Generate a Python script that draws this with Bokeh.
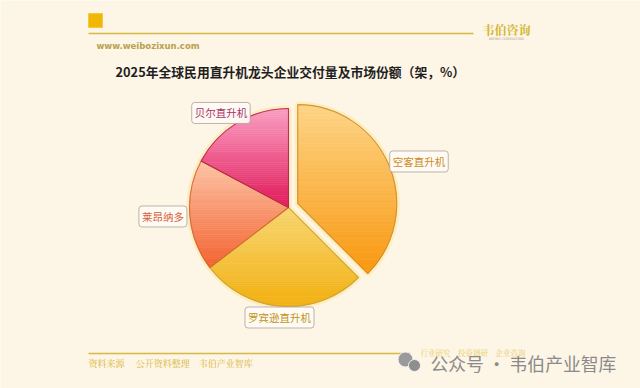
import numpy as np
from bokeh.plotting import figure
from bokeh.models import Range1d, Label
from bokeh.embed import file_html
from bokeh.resources import INLINE

# ---- data ----
categories = ["空客直升机", "罗宾逊直升机", "莱昂纳多", "贝尔直升机"]
share = [37.5, 27.1, 18.2, 17.2]
top_colors = ["#FDD486", "#F8D672", "#FDC4A6", "#FA9FC2"]
bottom_colors = ["#F99810", "#F2B010", "#F3622F", "#E2185A"]
edge_colors = ["#C98B2B", "#C9A032", "#D0603A", "#B0204F"]
label_colors = ["#CC8A1E", "#BE9420", "#D5603A", "#A8306A"]
explode = [10, 0, 0, 0]

title = "2025年全球民用直升机龙头企业交付量及市场份额（架，%）"
source_note = "资料来源\u3000\u00a0公开资料整理\u3000韦伯产业智库"
site = "www.weibozixun.com"
brand = "韦伯咨询"
watermark = "公众号 · 韦伯产业智库"
tagline = "行业研究\u3000投资调研\u3000企业咨询"

W, H = 640, 388
BG = "#FDF5E6"
FONT = "Noto Sans CJK SC"

p = figure(width=W, height=H, x_range=Range1d(0, W), y_range=Range1d(0, H),
           output_backend="svg", toolbar_location=None, min_border=0,
           x_axis_type=None, y_axis_type=None,
           background_fill_color=BG, border_fill_color=BG)
p.grid.visible = False
p.outline_line_color = None


def sy(y):
    return H - y


# ---- header ----
p.quad(left=88, right=102, top=sy(13), bottom=sy(27), fill_color="#F2B705", line_color="#F5C842")
p.segment(x0=88, y0=sy(33), x1=473, y1=sy(33), line_color="#D6BA45", line_width=1.6)
p.add_layout(Label(x=96, y=sy(45), text=site, text_font="DejaVu Sans", text_font_style="bold",
                   text_font_size="8.5px", text_color="#B8A24E", text_baseline="middle"))
p.add_layout(Label(x=506, y=sy(29), text=brand, text_font="Noto Serif CJK SC", text_font_style="bold",
                   text_font_size="12px", text_color="#D2B52E", text_align="center", text_baseline="middle"))
p.add_layout(Label(x=506, y=sy(38), text="WEIBO CONSULTING", text_font="DejaVu Sans",
                   text_font_size="3.5px", text_color="#B0A890", text_align="center", text_baseline="middle"))

# ---- title ----
p.add_layout(Label(x=115, y=sy(71), text=title, text_font=FONT, text_font_style="bold",
                   text_font_size="12.8px", text_color="#1E1E1E", text_baseline="middle"))

# ---- pie ----
CX, CY, R = 288, sy(207), 99
frac = np.array(share) / np.sum(share)
ends = np.pi / 2 - 2 * np.pi * np.cumsum(frac)
starts = ends + 2 * np.pi * frac
mids = (starts + ends) / 2
ex = np.array(explode, dtype=float)
cxs = CX + ex * np.cos(mids)
cys = CY + ex * np.sin(mids)

# glow
p.wedge(x=cxs, y=cys, radius=R, start_angle=ends, end_angle=starts, direction="anticlock",
        fill_color=None, line_color="#FFE79A", line_width=6, line_alpha=0.55)


def hex2rgb(h):
    h = h.lstrip("#")
    return np.array([int(h[i:i + 2], 16) for i in (0, 2, 4)], dtype=float)


def rgb2hex(c):
    return "#%02x%02x%02x" % tuple(int(round(v)) for v in c)


def clip_half(pts, keep, yb):
    out = []
    n = len(pts)
    for i in range(n):
        a = pts[i]
        b = pts[(i + 1) % n]
        ina, inb = keep(a[1]), keep(b[1])
        if ina:
            out.append(a)
        if ina != inb:
            t = (yb - a[1]) / (b[1] - a[1])
            out.append((a[0] + t * (b[0] - a[0]), yb))
    return out


xs_all, ys_all, cols_all = [], [], []
NB = 48
for i in range(len(categories)):
    th = np.linspace(ends[i], starts[i], 90)
    poly = [(cxs[i], cys[i])] + [(cxs[i] + R * np.cos(t), cys[i] + R * np.sin(t)) for t in th]
    ymin = min(q[1] for q in poly)
    ymax = max(q[1] for q in poly)
    c0, c1 = hex2rgb(top_colors[i]), hex2rgb(bottom_colors[i])
    edges = np.linspace(ymin, ymax, NB + 1)
    for k in range(NB):
        y0, y1 = edges[k], edges[k + 1]
        pts = clip_half(poly, lambda y: y >= y0, y0)
        if pts:
            pts = clip_half(pts, lambda y: y <= y1, y1)
        if len(pts) < 3:
            continue
        t = (ymax - (y0 + y1) / 2) / (ymax - ymin)
        col = rgb2hex(c0 + (c1 - c0) * t)
        xs_all.append([q[0] for q in pts])
        ys_all.append([q[1] for q in pts])
        cols_all.append(col)

p.patches(xs=xs_all, ys=ys_all, fill_color=cols_all, line_color=cols_all, line_width=0.6)

# outlines
p.wedge(x=cxs, y=cys, radius=R, start_angle=ends, end_angle=starts, direction="anticlock",
        fill_color=None, line_color=edge_colors, line_width=1.1, line_alpha=0.85)

# ---- labels ----
FS = 10.5
for i, name in enumerate(categories):
    w = len(name) * FS + 8
    h = FS + 8
    d = R + 2
    c, s = np.cos(mids[i]), np.sin(mids[i])
    lx = cxs[i] + d * c + c * w / 2
    ly = cys[i] + d * s + s * h / 2
    p.add_layout(Label(x=lx, y=ly, text=name, text_font=FONT, text_font_size=f"{FS}px",
                       text_color=label_colors[i], text_align="center", text_baseline="middle",
                       background_fill_color="#FFFBF4", background_fill_alpha=0.95,
                       border_line_color="#A9A39B", border_line_width=1, border_line_alpha=0.8,
                       padding=3, border_radius=3))

# ---- footer ----
p.segment(x0=88, y0=sy(353), x1=410, y1=sy(353), line_color="#D6BA45", line_width=1.4)
p.add_layout(Label(x=88, y=sy(363), text=source_note, text_font="Noto Serif CJK SC",
                   text_font_size="9px", text_color="#D8B632", text_baseline="middle"))
p.add_layout(Label(x=420, y=sy(352), text=tagline, text_font="Noto Serif CJK SC",
                   text_font_size="7.5px", text_color="#E2C23A", text_alpha=0.8, text_baseline="middle"))

# watermark
p.circle(x=[405, 414], y=[sy(359), sy(365)], radius=[7.5, 6], fill_color=["#9A9A9A", "#8E8E8E"],
         line_color="#F2F2F2", line_width=1)
p.add_layout(Label(x=430, y=sy(362), text=watermark, text_font=FONT, text_font_size="17.8px",
                   text_color="#8A8A8A", text_baseline="middle"))

open("out.html", "w").write(file_html(p, INLINE))
